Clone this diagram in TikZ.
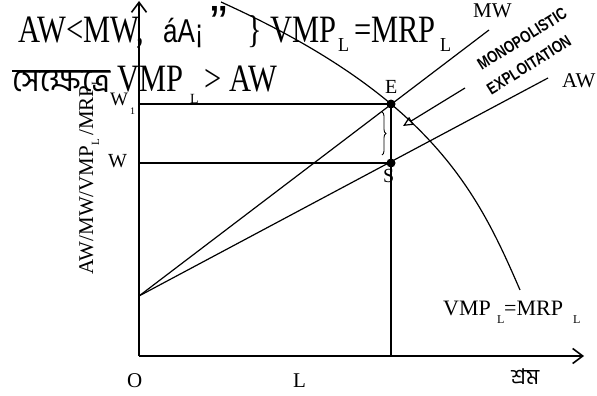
\documentclass[tikz,border=0pt]{standalone}
\usepackage{fontspec}
\usepackage{graphicx}
\setmainfont{Liberation Serif}
\newfontfamily\sansf{Liberation Sans}
\newfontfamily\bnf[Script=Bengali]{Hind Siliguri}
\usetikzlibrary{arrows.meta,decorations.pathreplacing}
\newcommand{\fs}[1]{\fontsize{#1}{#1}\selectfont}
\newcommand{\tallx}[1]{\scalebox{1}[1.27]{#1}}
\begin{document}
\begin{tikzpicture}[x=1pt,y=-1pt,
  lbl/.style={inner sep=0pt, anchor=base west},
  big/.style={lbl, font=\fs{30.5}},
  thinline/.style={line width=1.2pt},
  midline/.style={line width=1.5pt},
  axisline/.style={line width=1.6pt, -{Straight Barb[length=10pt,width=15pt]}},
  dot/.style={circle, fill=black, inner sep=0pt, minimum size=9pt},
  monotext/.style={inner sep=0pt, rotate=32, font=\sansf\bfseries\fs{16.5}}]
\fill[white] (0,0) rectangle (597,396);
\useasboundingbox (0,0) rectangle (597,396);

% key points
\coordinate (O) at (139,356);
\coordinate (ytop) at (139,1);
\coordinate (xend) at (584,356);
\coordinate (Lft) at (391,356);
\coordinate (W1) at (139,104);
\coordinate (Wc) at (139,163);
\coordinate (I) at (139,296);
\coordinate (MWend) at (489,30);
\coordinate (AWend) at (548,78);
\coordinate (arS) at (465,88);
\coordinate (arT) at (403,126);
\coordinate (brT) at (382,112);
\coordinate (brB) at (382,155);
\node[dot] (E) at (391,104) {};
\node[dot] (S) at (391,163) {};

% axes
\draw[axisline] (O) -- (ytop);
\draw[axisline] (O) -- (xend);

% guide lines
\draw[midline] (W1) -- (E.center);
\draw[midline] (Wc) -- (S.center);
\draw[midline] (E.center) -- (Lft);

% MW and AW
\draw[thinline] (I) -- (MWend);
\draw[thinline] (I) -- (AWend);

% VMP = MRP curve
\draw[thinline] plot[domain=0.02:2.9, samples=80, variable=\s, smooth]
  ({221 + 166.67*(\s-0.02) - 39.98*(\s-0.02)*(\s-1.04) + 6.88*(\s-0.02)*(\s-1.04)*(\s-2)}, {100*\s});

% arrow to exploitation gap
\draw[thinline, -{Triangle[open,length=10pt,width=9pt]}] (arS) -- (arT);

% brace
\draw[line width=0.9pt, decorate, decoration={brace, amplitude=4pt}] (brT) -- (brB);

% top text, line 1
\node[big] (t1a) at (18,43) {\tallx{AW<MW,}};
\node[lbl, font=\sansf\fs{26}] (t1b) at (163,43) {\tallx{áA¡}};
\node[lbl, font=\sansf\fs{30}] (t1c) at (210,40) {\scalebox{1.7}[1.6]{”}};
\node[big] (t1d) at (247,43) {\tallx{\}}};
\node[big] (t1e) at (270,43) {\tallx{VMP}};
\node[lbl, font=\fs{18}] (t1f) at (338,52) {\scalebox{1}[1.1]{L}};
\node[big] (t1g) at (354,43) {\tallx{=MRP}};
\node[lbl, font=\fs{18}] (t1h) at (440,52) {\scalebox{1}[1.1]{L}};

% top text, line 2
\node[lbl, font=\bnf] (t2a) at (12,92) {\resizebox{98pt}{!}{সেক্ষেত্রে}};
\draw[line width=1.4pt] (12,71) -- (110,71);
\node[big] (t2b) at (117,92) {\tallx{VMP}};
\node[lbl, font=\fs{14}] (t2c) at (190,103) {L};
\node[big] (t2d) at (204,92) {\tallx{> AW}};

% axis labels
\node[lbl, font=\fs{21}, rotate=90] (ylab) at (93,275)
  {AW/MW/VMP\raisebox{-6pt}{\fs{11}L}\,/MRP\raisebox{-6pt}{\fs{11}L}};
\node[lbl, font=\fs{19}] (lW1) at (110,106) {W};
\node[lbl, font=\fs{10}] (lW1s) at (130,114) {1};
\node[lbl, font=\fs{20}] (lW) at (108,167) {W};
\node[lbl, font=\fs{20}] (lE) at (385,93) {E};
\node[lbl, font=\fs{20}] (lS) at (383,182) {S};
\node[lbl, font=\fs{21}] (lO) at (127,387) {O};
\node[lbl, font=\fs{21}] (lL) at (293,387) {L};
\node[lbl, font=\bnf] (lsram) at (511,384) {\resizebox{28pt}{!}{শ্রম}};
\node[lbl, font=\fs{21}] (lMW) at (473,18) {MW};
\node[lbl, font=\fs{21}] (lAW) at (562,88) {AW};

% curve label
\node[lbl, font=\fs{22}] (c1) at (443,315) {VMP};
\node[lbl, font=\fs{12}] (c2) at (497,323) {L};
\node[lbl, font=\fs{22}] (c3) at (504,315) {=MRP};
\node[lbl, font=\fs{12}] (c4) at (573,323) {L};

% monopolistic exploitation
\node[monotext] (mono) at (522,39) {\scalebox{0.8}[1]{MONOPOLISTIC}};
\node[monotext] (expl) at (529,65) {\scalebox{0.8}[1]{EXPLOITATION}};
\end{tikzpicture}
\end{document}
